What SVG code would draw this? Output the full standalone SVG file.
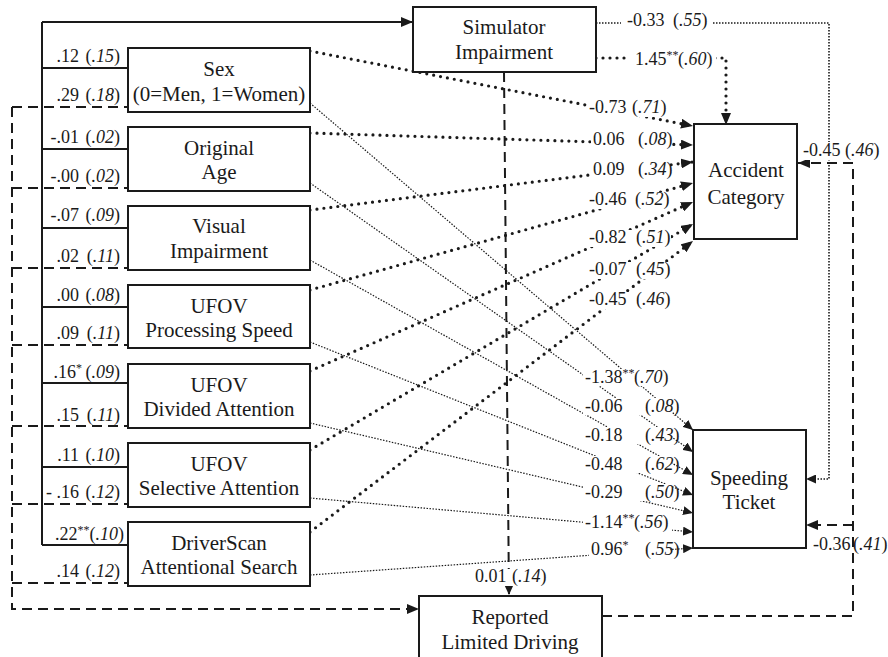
<svg xmlns="http://www.w3.org/2000/svg" width="888" height="657" viewBox="0 0 888 657">
<style>
.box{fill:#fff;stroke:#1a1a1a;stroke-width:2}
.t{font-family:"Liberation Serif","Times New Roman",serif;font-size:21px;fill:#1a1a1a;text-anchor:middle}
.l{font-family:"Liberation Serif","Times New Roman",serif;font-size:18px;fill:#1a1a1a}
.e{text-anchor:end}
.i{font-style:italic}
.sup{font-size:12px}
.solid{stroke:#1a1a1a;stroke-width:2;fill:none}
.dash{stroke:#1a1a1a;stroke-width:2;stroke-dasharray:10 6;fill:none}
.hdot{stroke:#1a1a1a;stroke-width:3.2;stroke-dasharray:0 7;stroke-linecap:round;fill:none}
.tdot{stroke:#1a1a1a;stroke-width:1.2;stroke-dasharray:1.5 1.5;fill:none}
.mdot{stroke:#1a1a1a;stroke-width:1.6;stroke-dasharray:1.5 1.5;fill:none}
.m{fill:#fff}
</style>
<defs>
<marker id="a" viewBox="0 0 12 10" markerWidth="12" markerHeight="10" refX="12" refY="5" orient="auto" markerUnits="userSpaceOnUse"><path d="M0,0L12,5L0,10z" fill="#1a1a1a"/></marker>
<marker id="s" viewBox="0 0 10 9" markerWidth="10" markerHeight="9" refX="10" refY="4.5" orient="auto" markerUnits="userSpaceOnUse"><path d="M0,0L10,4.5L0,9z" fill="#1a1a1a"/></marker>
</defs>
<rect width="888" height="657" fill="#fff"/>

<g id="connectors">
<!-- solid paths to Simulator Impairment -->
<path class="solid" d="M42,22H413" marker-end="url(#a)"/>
<path class="solid" d="M42,22V545"/>
<path class="solid" d="M42,68H128M42,149H128M42,228H128M42,307H128M42,383H128M42,467H128M42,545H128"/>
<!-- dashed paths to Reported Limited Driving -->
<path class="dash" d="M12,107V609H419" marker-end="url(#a)"/>
<path class="dash" d="M12,107H128M12,188H128M12,268H128M12,345H128M12,426H128M12,504H128M12,583H128"/>
<!-- heavy dotted to Accident Category -->
<path class="hdot" d="M310,51L693,126" marker-end="url(#a)"/>
<path class="hdot" d="M310,133L693,145" marker-end="url(#a)"/>
<path class="hdot" d="M310,210L693,162" marker-end="url(#a)"/>
<path class="hdot" d="M310,290L693,183" marker-end="url(#a)"/>
<path class="hdot" d="M310,371L693,202" marker-end="url(#a)"/>
<path class="hdot" d="M310,450L693,224" marker-end="url(#a)"/>
<path class="hdot" d="M310,532L693,241" marker-end="url(#a)"/>
<!-- thin dotted to Speeding Ticket -->
<path class="tdot" d="M310,103L693,430" marker-end="url(#s)"/>
<path class="tdot" d="M310,183L693,452" marker-end="url(#s)"/>
<path class="tdot" d="M310,260L693,475" marker-end="url(#s)"/>
<path class="tdot" d="M310,342L693,495" marker-end="url(#s)"/>
<path class="tdot" d="M310,423L693,513" marker-end="url(#s)"/>
<path class="tdot" d="M310,498L693,532" marker-end="url(#s)"/>
<path class="tdot" d="M310,575L693,548" marker-end="url(#s)"/>
<!-- Simulator outputs -->
<path class="mdot" d="M596,23H829V479H806" marker-end="url(#s)"/>
<path class="hdot" d="M596,58H726V125" marker-end="url(#a)"/>
<path class="dash" d="M504,72L509,595" marker-end="url(#s)"/>
<!-- Reported Limited Driving outputs -->
<path class="dash" d="M602,616H853V163H798" marker-end="url(#a)"/>
<path class="dash" d="M853,525H806" marker-end="url(#a)"/>
</g>

<g id="labels">
<!-- left solid/dashed labels -->
<text class="l e"><tspan x="79" y="62">.12</tspan><tspan x="120" y="62">(<tspan class="i">.15</tspan>)</tspan></text>
<text class="l e"><tspan x="79" y="101">.29</tspan><tspan x="120" y="101">(<tspan class="i">.18</tspan>)</tspan></text>
<text class="l e"><tspan x="79" y="143">-.01</tspan><tspan x="120" y="143">(<tspan class="i">.02</tspan>)</tspan></text>
<text class="l e"><tspan x="79" y="182">-.00</tspan><tspan x="120" y="182">(<tspan class="i">.02</tspan>)</tspan></text>
<text class="l e"><tspan x="79" y="221">-.07</tspan><tspan x="120" y="221">(<tspan class="i">.09</tspan>)</tspan></text>
<text class="l e"><tspan x="79" y="262">.02</tspan><tspan x="120" y="262">(<tspan class="i">.11</tspan>)</tspan></text>
<text class="l e"><tspan x="79" y="301">.00</tspan><tspan x="120" y="301">(<tspan class="i">.08</tspan>)</tspan></text>
<text class="l e"><tspan x="79" y="339">.09</tspan><tspan x="120" y="339">(<tspan class="i">.11</tspan>)</tspan></text>
<text class="l e"><tspan x="82" y="378">.16<tspan class="sup" dy="-6">*</tspan></tspan><tspan x="120" y="378">(<tspan class="i">.09</tspan>)</tspan></text>
<text class="l e"><tspan x="79" y="421">.15</tspan><tspan x="120" y="421">(<tspan class="i">.11</tspan>)</tspan></text>
<text class="l e"><tspan x="79" y="461">.11</tspan><tspan x="120" y="461">(<tspan class="i">.10</tspan>)</tspan></text>
<text class="l e"><tspan x="79" y="498">- .16</tspan><tspan x="120" y="498">(<tspan class="i">.12</tspan>)</tspan></text>
<text class="l e" x="124" y="540">.22<tspan class="sup" dy="-6">**</tspan><tspan dy="6">(</tspan><tspan class="i">.10</tspan>)</text>
<text class="l e"><tspan x="79" y="577">.14</tspan><tspan x="120" y="577">(<tspan class="i">.12</tspan>)</tspan></text>

<!-- Accident Category labels -->
<rect class="m" x="587" y="100" width="81" height="17"/>
<text class="l" y="113"><tspan x="589">-0.73</tspan><tspan x="632">(<tspan class="i">.71</tspan>)</tspan></text>
<rect class="m" x="591" y="132" width="79" height="17"/>
<text class="l" y="145"><tspan x="593">0.06</tspan><tspan x="638">(<tspan class="i">.08</tspan>)</tspan></text>
<rect class="m" x="591" y="162" width="79" height="17"/>
<text class="l" y="175"><tspan x="593">0.09</tspan><tspan x="638">(<tspan class="i">.34</tspan>)</tspan></text>
<rect class="m" x="587" y="192" width="81" height="17"/>
<text class="l" y="205"><tspan x="589">-0.46</tspan><tspan x="635">(<tspan class="i">.52</tspan>)</tspan></text>
<rect class="m" x="587" y="230" width="84" height="17"/>
<text class="l" y="243"><tspan x="589">-0.82</tspan><tspan x="636">(<tspan class="i">.51</tspan>)</tspan></text>
<rect class="m" x="587" y="262" width="84" height="17"/>
<text class="l" y="275"><tspan x="589">-0.07</tspan><tspan x="636">(<tspan class="i">.45</tspan>)</tspan></text>
<rect class="m" x="587" y="292" width="84" height="17"/>
<text class="l" y="305"><tspan x="589">-0.45</tspan><tspan x="636">(<tspan class="i">.46</tspan>)</tspan></text>

<!-- Speeding Ticket labels -->
<rect class="m" x="583" y="369" width="89" height="17"/>
<text class="l" y="383"><tspan x="585">-1.38<tspan class="sup" dy="-6">**</tspan></tspan><tspan x="634" y="383">(<tspan class="i">.70</tspan>)</tspan></text>
<rect class="m" x="583" y="398" width="89" height="17"/>
<text class="l" y="412"><tspan x="585">-0.06</tspan><tspan x="645">(<tspan class="i">.08</tspan>)</tspan></text>
<rect class="m" x="583" y="427" width="89" height="17"/>
<text class="l" y="441"><tspan x="585">-0.18</tspan><tspan x="645">(<tspan class="i">.43</tspan>)</tspan></text>
<rect class="m" x="583" y="456" width="89" height="17"/>
<text class="l" y="470"><tspan x="585">-0.48</tspan><tspan x="645">(<tspan class="i">.62</tspan>)</tspan></text>
<rect class="m" x="583" y="484" width="89" height="17"/>
<text class="l" y="498"><tspan x="585">-0.29</tspan><tspan x="645">(<tspan class="i">.50</tspan>)</tspan></text>
<rect class="m" x="583" y="514" width="89" height="17"/>
<text class="l" y="528"><tspan x="585">-1.14<tspan class="sup" dy="-6">**</tspan></tspan><tspan x="634" y="528">(<tspan class="i">.56</tspan>)</tspan></text>
<rect class="m" x="589" y="541" width="81" height="17"/>
<text class="l" y="555"><tspan x="591">0.96<tspan class="sup" dy="-6">*</tspan></tspan><tspan x="645" y="555">(<tspan class="i">.55</tspan>)</tspan></text>

<!-- Simulator output labels -->
<rect class="m" x="621" y="13" width="92" height="17"/>
<text class="l" y="26"><tspan x="627">-0.33</tspan><tspan x="673">(<tspan class="i">.55</tspan>)</tspan></text>
<rect class="m" x="628" y="48" width="88" height="19"/>
<text class="l" y="65"><tspan x="635">1.45<tspan class="sup" dy="-6">**</tspan></tspan><tspan x="678" y="65">(<tspan class="i">.60</tspan>)</tspan></text>
<rect class="m" x="473" y="569" width="74" height="17"/>
<text class="l" y="582"><tspan x="475">0.01</tspan><tspan x="512">(<tspan class="i">.14</tspan>)</tspan></text>

<!-- Reported Limited Driving output labels -->
<rect class="m" x="801" y="142" width="80" height="18"/>
<text class="l" y="156"><tspan x="803">-0.45</tspan><tspan x="845">(<tspan class="i">.46</tspan>)</tspan></text>
<text class="l" y="550"><tspan x="813">-0.36</tspan><tspan x="853">(<tspan class="i">.41</tspan>)</tspan></text>
</g>

<g id="sex"><rect class="box" x="128" y="48" width="182" height="64"/><text class="t" x="219" y="76">Sex</text><text class="t" x="219" y="101">(0=Men, 1=Women)</text></g>
<g id="age"><rect class="box" x="128" y="127" width="182" height="64"/><text class="t" x="219" y="155">Original</text><text class="t" x="219" y="179">Age</text></g>
<g id="visual"><rect class="box" x="128" y="206" width="182" height="64"/><text class="t" x="219" y="233">Visual</text><text class="t" x="219" y="258">Impairment</text></g>
<g id="ufov-ps"><rect class="box" x="128" y="285" width="182" height="63"/><text class="t" x="219" y="313">UFOV</text><text class="t" x="219" y="337">Processing Speed</text></g>
<g id="ufov-da"><rect class="box" x="128" y="364" width="182" height="64"/><text class="t" x="219" y="392">UFOV</text><text class="t" x="219" y="416">Divided Attention</text></g>
<g id="ufov-sa"><rect class="box" x="128" y="443" width="182" height="64"/><text class="t" x="219" y="471">UFOV</text><text class="t" x="219" y="495">Selective Attention</text></g>
<g id="driverscan"><rect class="box" x="128" y="522" width="182" height="64"/><text class="t" x="219" y="550">DriverScan</text><text class="t" x="219" y="574">Attentional Search</text></g>
<g id="simulator"><rect class="box" x="413" y="7" width="183" height="65"/><text class="t" x="504" y="34">Simulator</text><text class="t" x="504" y="59">Impairment</text></g>
<g id="accident"><rect class="box" x="694" y="124" width="103" height="115"/><text class="t" x="746" y="177">Accident</text><text class="t" x="746" y="204">Category</text></g>
<g id="speeding"><rect class="box" x="693" y="430" width="113" height="118"/><text class="t" x="749" y="485">Speeding</text><text class="t" x="749" y="509">Ticket</text></g>
<g id="reported"><rect class="box" x="419" y="596" width="183" height="70"/><text class="t" x="510" y="624">Reported</text><text class="t" x="510" y="649">Limited Driving</text></g>
</svg>
